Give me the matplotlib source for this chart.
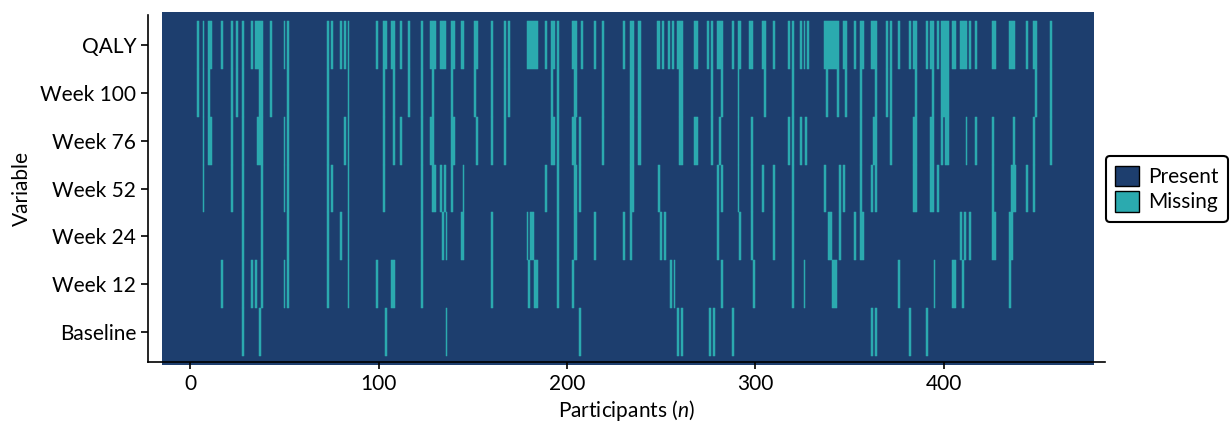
import numpy as np
import matplotlib
matplotlib.use('Agg')
import matplotlib.pyplot as plt
from matplotlib.patches import Patch, Rectangle

plt.rcParams['font.family'] = ['Lato', 'DejaVu Sans']
plt.rcParams['mathtext.fontset'] = 'custom'
plt.rcParams['mathtext.it'] = 'Lato:italic'
plt.rcParams['mathtext.rm'] = 'Lato'

# variables from bottom to top
variables = ['Baseline', 'Week 12', 'Week 24', 'Week 52', 'Week 76', 'Week 100', 'QALY']
n_participants = 463

# participant indices with a missing value, per variable
missing_baseline = [28, 37, 104, 136, 207, 259, 261, 276, 278, 288, 362, 364, 382, 391]
missing_week12 = [17, 28, 33, 35, 38, 50, 52, 73, 84, 99, 107, 108, 123, 160, 180, 183, 184,
                  195, 203, 255, 257, 282, 299, 320, 326, 341, 342, 343, 376, 395, 405, 406,
                  410, 435]
missing_week24 = [28, 38, 52, 73, 80, 84, 123, 134, 136, 144, 145, 160, 179, 181, 182, 195,
                  204, 205, 215, 230, 234, 250, 252, 280, 292, 298, 310, 320, 339, 340, 345,
                  353, 356, 357, 409, 411, 414, 426, 427, 435, 436]
missing_week52 = [7, 22, 28, 38, 50, 52, 73, 75, 84, 103, 123, 129, 130, 133, 135, 139, 145,
                  189, 195, 204, 205, 207, 234, 235, 249, 280, 282, 291, 298, 304, 310, 320,
                  337, 345, 347, 356, 362, 364, 384, 385, 393, 394, 397, 426, 436, 437, 438,
                  444, 448]
missing_week76 = [7, 10, 11, 22, 28, 36, 37, 38, 50, 52, 73, 82, 84, 103, 108, 112, 123, 128,
                  129, 139, 140, 152, 160, 167, 192, 193, 195, 203, 204, 207, 219, 234, 235,
                  238, 239, 260, 261, 268, 269, 277, 281, 291, 298, 318, 320, 324, 327, 356,
                  363, 364, 372, 384, 385, 393, 394, 399, 401, 402, 412, 417, 426, 437, 448,
                  457]
missing_week100 = [4, 7, 10, 22, 25, 28, 37, 38, 43, 52, 73, 84, 103, 108, 116, 123, 129, 139,
                   151, 160, 167, 169, 192, 195, 204, 205, 219, 234, 235, 238, 239, 260, 261,
                   277, 282, 291, 305, 320, 338, 344, 348, 356, 364, 370, 372, 385, 394, 399,
                   400, 401, 402, 449, 457]
missing_qaly = [4, 7, 10, 11, 17, 22, 25, 28, 33, 35, 36, 37, 38, 43, 50, 52, 73, 75, 80, 82,
                84, 99, 103, 104, 107, 108, 112, 116, 123, 128, 129, 130, 133, 134, 135, 139,
                140, 144, 145, 151, 152, 160, 167, 169, 179, 180, 181, 182, 183, 184, 189,
                192, 193, 195, 203, 204, 205, 208, 215, 219, 230, 234, 235, 238, 239, 248,
                249, 251, 254, 256, 259, 260, 261, 268, 269, 275, 277, 280, 281, 282, 288,
                291, 292, 297, 298, 304, 305, 310, 318, 320, 324, 326, 328, 337, 338, 339,
                340, 341, 342, 343, 344, 347, 348, 353, 356, 357, 362, 363, 364, 370, 372,
                376, 382, 384, 385, 391, 393, 394, 397, 399, 400, 401, 402, 405, 406, 409,
                410, 411, 412, 414, 417, 426, 427, 435, 436, 437, 444, 448, 449, 457]

missing_lists = [missing_baseline, missing_week12, missing_week24, missing_week52,
                 missing_week76, missing_week100, missing_qaly]

present_col = '#1d3e6e'
missing_col = '#2baaaf'

fig = plt.figure(figsize=(12.32, 4.30), dpi=100)
ax = fig.add_axes([0.1201, 0.1581, 0.7768, 0.807])

# panel background = present
bg = Rectangle((-15.1, -0.69), 494.7, 7.38, facecolor=present_col, edgecolor='none',
               zorder=0, clip_on=False)
ax.add_patch(bg)

# one tile per missing cell
for i, idx in enumerate(missing_lists):
    ax.bar(idx, 1, bottom=i - 0.5, width=1, color=missing_col, edgecolor=missing_col,
           linewidth=0.35, zorder=1)

ax.set_xlim(-22.45, 485.5)
ax.set_ylim(-0.627, 6.63)
ax.set_xticks([0, 100, 200, 300, 400])
ax.set_yticks(range(len(variables)))
ax.set_yticklabels(variables)
ax.tick_params(labelsize=15, length=5, width=1.2, color='black')
ax.set_xlabel('Participants ($\\it{n}$)', fontsize=15, labelpad=3)
ax.set_ylabel('Variable', fontsize=15, labelpad=6)

for s in ['top', 'right']:
    ax.spines[s].set_visible(False)
for s in ['left', 'bottom']:
    ax.spines[s].set_linewidth(1.2)
    ax.spines[s].set_zorder(3)

handles = [Patch(facecolor=present_col, edgecolor='black', label='Present'),
           Patch(facecolor=missing_col, edgecolor='black', label='Missing')]
leg = fig.legend(handles=handles, loc='center left', bbox_to_anchor=(0.8977, 0.5605),
                 fontsize=15, frameon=True, fancybox=True, handlelength=1.15,
                 handleheight=1.15, handletextpad=0.4, borderpad=0.45, labelspacing=0.2,
                 borderaxespad=0)
leg.get_frame().set_edgecolor('black')
leg.get_frame().set_linewidth(1.5)
leg.get_frame().set_alpha(1)

fig.savefig('out.png', dpi=100)
